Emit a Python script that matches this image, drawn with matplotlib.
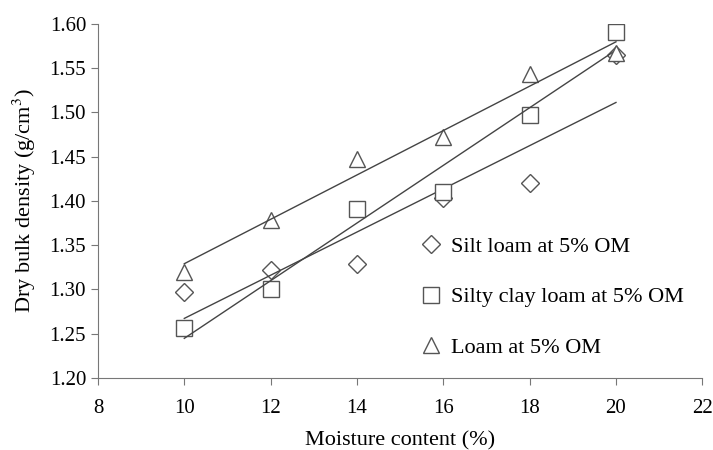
import numpy as np
import matplotlib
matplotlib.use("Agg")
import matplotlib.pyplot as plt

plt.rcParams['font.family'] = ['Liberation Serif', 'DejaVu Serif']
plt.rcParams['mathtext.fontset'] = 'stix'

moisture = [10, 12, 14, 16, 18, 20]
silt_loam = [1.297, 1.322, 1.329, 1.403, 1.420, 1.565]
silty_clay_loam = [1.257, 1.300, 1.391, 1.410, 1.497, 1.591]
loam = [1.320, 1.378, 1.447, 1.472, 1.543, 1.567]

labels = ["Silt loam at 5% OM", "Silty clay loam at 5% OM", "Loam at 5% OM"]
markers = ["D", "s", "^"]
sizes = [9, 11, 12]

fig = plt.figure(figsize=(7.13, 4.5), dpi=100)
ax = fig.add_axes([0.1374, 0.16, 0.8476, 0.7867])

x = np.array(moisture, dtype=float)
for y, lab, m, s in zip([silt_loam, silty_clay_loam, loam], labels, markers, sizes):
    ax.plot(x, y, linestyle='none', marker=m, markersize=s,
            markerfacecolor='white', markeredgecolor='#555555', markeredgewidth=1.0,
            label=lab)
    k, b = np.polyfit(x, np.array(y), 1)
    ax.plot([x[0], x[-1]], [k * x[0] + b, k * x[-1] + b], color='#444444', lw=1.0)

ax.set_xlim(8, 22)
ax.set_ylim(1.20, 1.60)
ax.set_xticks(range(8, 23, 2))
ax.set_yticks(np.arange(1.20, 1.601, 0.05))
ax.yaxis.set_major_formatter(matplotlib.ticker.FormatStrFormatter('%.2f'))
for sp in ['top', 'right']:
    ax.spines[sp].set_visible(False)
for sp in ['left', 'bottom']:
    ax.spines[sp].set_color('#777777')
ax.tick_params(direction='out', length=5, color='#777777', labelsize=15)
ax.tick_params(axis='x', pad=10)
ax.set_xlabel("Moisture content (%)", fontsize=16, labelpad=10)
ax.set_ylabel("Dry bulk density (g/cm$^3$)", fontsize=16, labelpad=8)

ax.legend(loc='lower left', bbox_to_anchor=(0.5, 0.0), frameon=False, fontsize=16,
          handlelength=1.0, handletextpad=0.4, labelspacing=1.35)

fig.savefig("out.png", dpi=100)
